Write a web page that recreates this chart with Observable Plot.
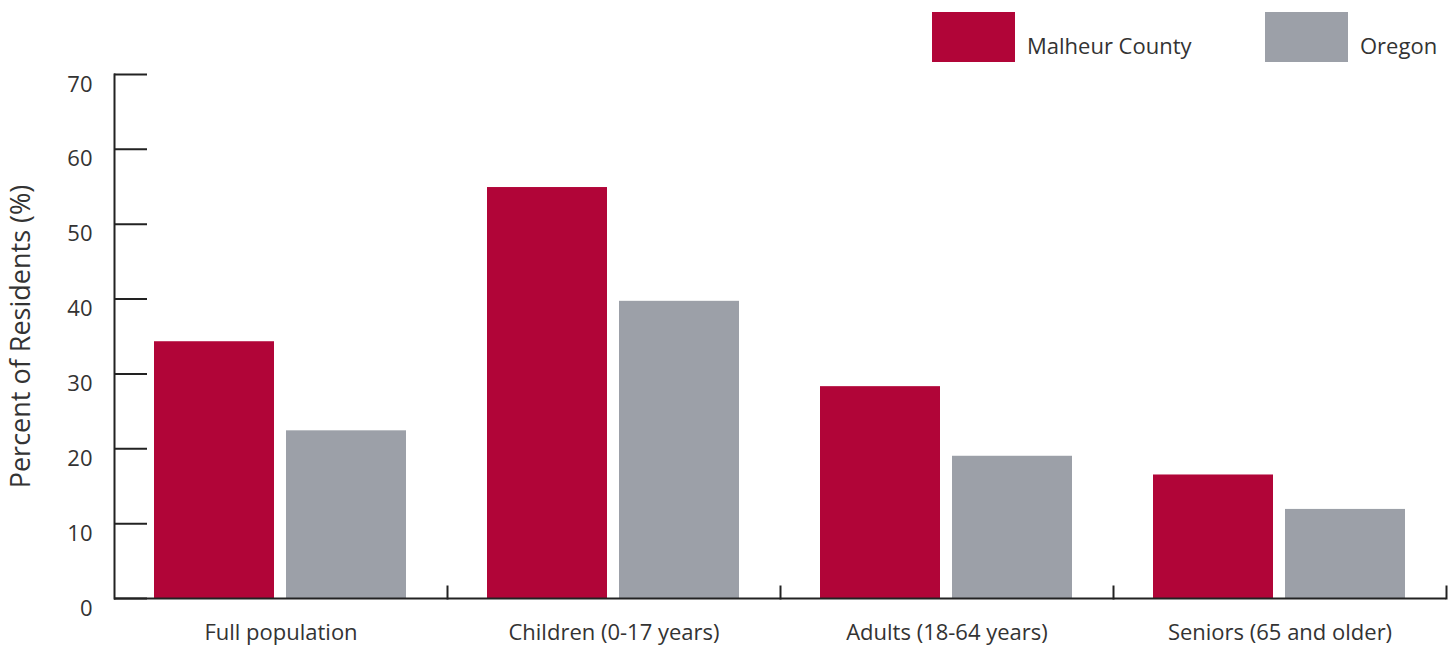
<!DOCTYPE html>
<html><head><meta charset="utf-8">
<script src="https://cdn.jsdelivr.net/npm/d3@7"></script>
<script src="https://cdn.jsdelivr.net/npm/@observablehq/plot@0.6"></script>
<style>
body{margin:0;background:#fff;font-family:"Open Sans",sans-serif;}
#wrap{position:relative;width:1456px;height:645px;overflow:hidden;}
.sw{position:absolute;top:12px;width:83px;height:50px;}
.lt{position:absolute;top:30px;font-size:22px;color:#333;line-height:30px;white-space:nowrap;}
</style></head><body>
<div id="wrap"><div id="chart"></div><div id="legend"></div></div>
<script>
const categories = ["Full population", "Children (0-17 years)", "Adults (18-64 years)", "Seniors (65 and older)"];
const series = ["Malheur County", "Oregon"];
const malheur = [34.3, 54.9, 28.3, 16.5];
const oregon = [22.4, 39.7, 19.0, 11.9];
const yTicks = [0, 10, 20, 30, 40, 50, 60, 70];
const colors = ["#b10538", "#9ca0a8"];

const data = categories.flatMap((c, i) => [
  {category: c, series: series[0], value: malheur[i]},
  {category: c, series: series[1], value: oregon[i]}
]);

const plot = Plot.plot({
  width: 1456, height: 645,
  marginLeft: 113, marginRight: 10, marginTop: 74, marginBottom: 47,
  style: {fontFamily: '"Open Sans", sans-serif', fontSize: "22px", color: "#333", background: "transparent"},
  fx: {domain: categories, padding: 0, label: null, axis: null},
  x: {domain: series, axis: null, paddingInner: 0.09, paddingOuter: 0.3},
  y: {domain: [0, 70], label: null},
  color: {domain: series, range: colors},
  marks: [
    Plot.barY(data, {fx: "category", x: "series", y: "value", fill: "series"}),
    Plot.ruleY([0], {stroke: "#222", strokeWidth: 2}),
    Plot.frame({anchor: "left", facetAnchor: "left", stroke: "#222", strokeWidth: 2}),
    Plot.frame({anchor: "right", insetTop: 512, stroke: "#222", strokeWidth: 2}),
    Plot.axisY(yTicks, {tickSize: -33, text: null, label: null, stroke: "#222", strokeWidth: 2}),
    Plot.axisY(yTicks, {tickSize: 0, tickPadding: 22, dy: 10, fontSize: 22, label: null}),
    Plot.axisY({ticks: [], tickSize: 0, fontSize: 27, label: "Percent of Residents (%)", labelAnchor: "center", labelOffset: 104, labelArrow: "none"}),
    Plot.axisFx({anchor: "bottom", tickSize: 0, tickPadding: 26, fontSize: 22, label: null})
  ]
});
document.getElementById("chart").appendChild(plot);

const legend = document.getElementById("legend");
const swX = [932, 1265];
const txX = [1027, 1360];
series.forEach((s, i) => {
  const sw = document.createElement("div");
  sw.className = "sw"; sw.style.left = swX[i] + "px"; sw.style.background = colors[i];
  legend.appendChild(sw);
  const t = document.createElement("div");
  t.className = "lt"; t.style.left = txX[i] + "px"; t.textContent = s;
  legend.appendChild(t);
});
</script>
</body></html>
